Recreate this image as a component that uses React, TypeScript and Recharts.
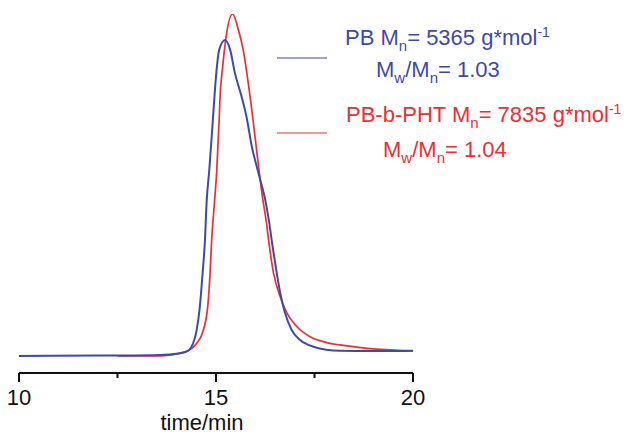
import { LineChart, Line, XAxis, YAxis } from 'recharts';

// SEC traces, elution time (min) vs detector signal (red peak = 100)
const pbTime = [10, 12, 13.6, 14.0, 14.26, 14.38, 14.51, 14.59, 14.66, 14.72, 14.76, 14.83, 14.92, 15.0, 15.08, 15.23, 15.36, 15.48, 15.65, 15.78, 15.91, 16.08, 16.25, 16.34, 16.43, 16.53, 16.63, 16.75, 16.92, 17.13, 17.47, 18.15, 19, 20];
const pbSignal = [0, 0.1, 0.3, 0.6, 1.3, 2.7, 7.6, 14.4, 24.2, 33.9, 44.6, 54.4, 69.0, 81.7, 89.5, 92.4, 89.5, 82.7, 75.8, 69.6, 61.2, 53.4, 45.6, 39.8, 32.5, 25.1, 18.4, 12.6, 7.6, 4.7, 2.7, 1.5, 1.4, 1.5];

const phtTime = [12.5, 13.6, 14.08, 14.3, 14.51, 14.68, 14.79, 14.85, 14.89, 14.96, 15.02, 15.08, 15.1, 15.17, 15.27, 15.42, 15.57, 15.69, 15.82, 15.94, 16.02, 16.1, 16.19, 16.27, 16.35, 16.46, 16.63, 16.8, 17.05, 17.39, 17.81, 18.15, 18.83, 20];
const phtSignal = [0, 0, 0.8, 1.5, 3.7, 7.6, 14.4, 24.2, 33.9, 44.7, 54.4, 69.0, 74.9, 84.6, 94.4, 100, 95.3, 89.5, 79.7, 69.0, 61.2, 53.5, 45.6, 39.8, 32.5, 24.2, 17.3, 12.5, 8.6, 5.6, 3.9, 3.2, 2.2, 1.5];

const xTicks = [10, 12.5, 15, 17.5, 20];
const labeledTicks = [10, 15, 20];

const seriesNames = ['PB', 'PB-b-PHT'];
const mnValues = ['5365', '7835'];
const pdiValues = ['1.03', '1.04'];

const BLUE = '#3c4ba9';
const RED = '#ee2e31';
const FONT = '"Liberation Sans", Arial, sans-serif';

const toPoints = (ts: number[], vs: number[]) => ts.map((t, i) => ({ t, v: vs[i] }));

const pbData = toPoints(pbTime, pbSignal);
const phtData = toPoints(phtTime, phtSignal);

const TimeTick = (props: any) => {
    const { x, y, payload } = props;
    const major = labeledTicks.includes(payload.value);
    return (
        <g>
            <line x1={x} x2={x} y1={y} y2={y + (major ? 9 : 5)} stroke="#111" strokeWidth={2} />
            {major && (
                <text x={x} y={y + 32} textAnchor="middle" fill="#111" fontSize={22} fontFamily={FONT}>
                    {payload.value}
                </text>
            )}
        </g>
    );
};

const LegendEntry = ({ i, color, lineY, x1, y1, x2, y2 }: any) => (
    <g fill={color} fontFamily={FONT} fontSize={22}>
        <line x1={277} x2={327} y1={lineY} y2={lineY} stroke={color} strokeWidth={1.2} />
        <text x={x1} y={y1}>
            <tspan>{seriesNames[i]} M</tspan>
            <tspan dy={6} fontSize={15}>n</tspan>
            <tspan dy={-6}>= {mnValues[i]} g*mol</tspan>
            <tspan dy={-8} fontSize={14}>-1</tspan>
        </text>
        <text x={x2} y={y2}>
            <tspan>M</tspan>
            <tspan dy={6} fontSize={15}>w</tspan>
            <tspan dy={-6}>/M</tspan>
            <tspan dy={6} fontSize={15}>n</tspan>
            <tspan dy={-6}>= {pdiValues[i]}</tspan>
        </text>
    </g>
);

export default function App() {
    return (
        <div style={{ position: 'absolute', left: 0, top: 0, width: 624, height: 435, background: '#fff' }}>
            <LineChart width={624} height={435} margin={{ top: 14, right: 211, left: 19, bottom: 22 }}>
                <XAxis
                    type="number"
                    dataKey="t"
                    domain={[10, 20]}
                    ticks={xTicks}
                    height={40}
                    tickSize={0}
                    tickMargin={0}
                    tickLine={false}
                    axisLine={{ stroke: '#111', strokeWidth: 2 }}
                    tick={<TimeTick />}
                    allowDataOverflow
                />
                <YAxis hide width={0} type="number" domain={[-5, 100]} allowDataOverflow />
                <Line
                    data={phtData}
                    dataKey="v"
                    type="monotone"
                    stroke={RED}
                    strokeWidth={1.7}
                    dot={false}
                    isAnimationActive={false}
                />
                <Line
                    data={pbData}
                    dataKey="v"
                    type="monotone"
                    stroke={BLUE}
                    strokeWidth={2}
                    dot={false}
                    isAnimationActive={false}
                />
            </LineChart>
            <svg
                width={624}
                height={435}
                style={{ position: 'absolute', left: 0, top: 0, pointerEvents: 'none' }}
            >
                <LegendEntry i={0} color={BLUE} lineY={58} x1={345} y1={45} x2={376} y2={77} />
                <LegendEntry i={1} color={RED} lineY={133} x1={346} y1={122} x2={383} y2={157} />
                <text x={202} y={430} textAnchor="middle" fill="#111" fontSize={22} fontFamily={FONT}>
                    time/min
                </text>
            </svg>
        </div>
    );
}
